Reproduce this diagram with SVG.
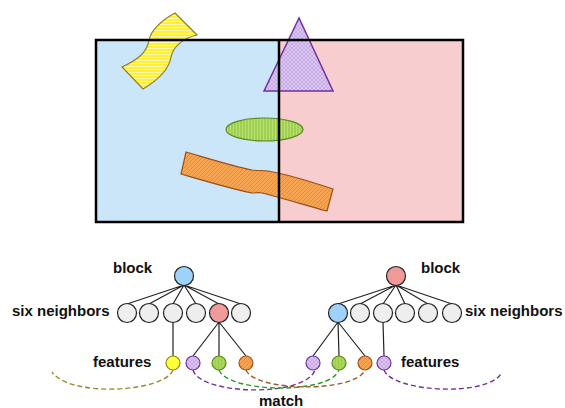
<svg xmlns="http://www.w3.org/2000/svg" width="565" height="408" viewBox="0 0 565 408">
<defs>
<pattern id="pHoriz" width="4" height="3" patternUnits="userSpaceOnUse"><rect width="4" height="3" fill="#ffef3a"/><line x1="0" y1="0.5" x2="4" y2="0.5" stroke="#fff8b0" stroke-width="1"/></pattern>
<pattern id="pCross" width="4" height="4" patternUnits="userSpaceOnUse"><rect width="4" height="4" fill="#dcc6f2"/><path d="M0,4 L4,0 M0,0 L4,4" stroke="#b898de" stroke-width="0.6"/></pattern>
<pattern id="pVert" width="3" height="4" patternUnits="userSpaceOnUse"><rect width="3" height="4" fill="#b8e070"/><line x1="1" y1="0" x2="1" y2="4" stroke="#86c038" stroke-width="1"/></pattern>
<pattern id="pDiag" width="4" height="4" patternUnits="userSpaceOnUse"><rect width="4" height="4" fill="#f6a452"/><path d="M0,4 L4,0" stroke="#e08838" stroke-width="0.8"/></pattern>
<pattern id="pStripeG" width="3" height="4" patternUnits="userSpaceOnUse"><rect width="3" height="4" fill="#9ccc48"/><line x1="1" y1="0" x2="1" y2="4" stroke="#b8e070" stroke-width="1"/></pattern>
</defs>
<style>
text{font-family:"Liberation Sans",Arial,sans-serif;font-weight:bold;font-size:15px;fill:#111}
.nb{fill:#eeeeee;stroke:#222;stroke-width:1.2}
.blue{fill:#9fd2f8;stroke:#222;stroke-width:1.2}
.red{fill:#f09a9a;stroke:#222;stroke-width:1.2}
.edge{stroke:#222;stroke-width:1.2;fill:none}
.fy{fill:#ffff3a;stroke:#8a8a20;stroke-width:1.2}
.fp{fill:url(#pCross);stroke:#7030a0;stroke-width:1.2}
.fg{fill:url(#pStripeG);stroke:#5a8a20;stroke-width:1.2}
.fo{fill:url(#pDiag);stroke:#a05020;stroke-width:1.2}
.dash{fill:none;stroke-width:1.4;stroke-dasharray:5,3}
</style>

<g id="scene">
<rect x="96" y="40" width="183" height="182" fill="#cce6f9"/>
<rect x="279" y="40" width="184" height="182" fill="#f7cdd0"/>
<path d="M175,13 L197,35 C183,38 173,47 171,57 C169,70 158,80 143,89 L122,67 C137,60 147,53 149,40 C151,30 162,20 175,13 Z" fill="url(#pHoriz)" stroke="#8a8020" stroke-width="1.2"/>
<polygon points="299,18 264,91 333,91" fill="url(#pCross)" stroke="#7030a0" stroke-width="1.5"/>
<ellipse cx="264.5" cy="129.5" rx="38.5" ry="11.5" fill="url(#pVert)" stroke="#5a8a20" stroke-width="1.2"/>
<path d="M186,152 C210,159 232,166 252,170 C258,171 262,170 268,171 C290,175 312,182 333,189 L327,211 C305,205 282,198 262,193 C258,192 256,193 252,193 C228,188 205,181 181,174 Z" fill="url(#pDiag)" stroke="#9a4e18" stroke-width="1.2"/>
<rect x="96" y="40" width="367" height="182" fill="none" stroke="#000" stroke-width="2.5"/>
<line x1="279" y1="40" x2="279" y2="222" stroke="#000" stroke-width="2.5"/>
</g>

<g id="connectors">
<path class="edge" d="M184,285 L127,304 M184,285 L149,304 M184,285 L173,304 M184,285 L196,304 M184,285 L219,304 M184,285 L241,304"/>
<path class="edge" d="M173,322 L173,356 M219,322 L193,356 M219,322 L219,356 M219,322 L246,356"/>
<path class="edge" d="M396,285 L338,304 M396,285 L360,304 M396,285 L383,304 M396,285 L405,304 M396,285 L428,304 M396,285 L452,304"/>
<path class="edge" d="M338,322 L313,356 M338,322 L339,356 M338,322 L365,356 M383,322 L384,356"/>
<path class="dash" stroke="#a08a30" d="M173,370 C165,392 70,398 52,372"/>
<path class="dash" stroke="#7030a0" d="M384,370 C392,392 490,398 502,372"/>
<path class="dash" stroke="#7030a0" d="M193,370 C200,395 305,398 315,370"/>
<path class="dash" stroke="#2e9a2e" d="M219,370 C228,393 330,395 339,370"/>
<path class="dash" stroke="#a0582a" d="M246,370 C255,392 355,393 365,370"/>
</g>

<g id="left-block"><circle class="blue" cx="184" cy="276" r="9.5"/><text x="113" y="273">block</text></g>
<g id="left-neighbors">
<circle class="nb" cx="127" cy="313" r="9.5"/><circle class="nb" cx="149" cy="313" r="9.5"/><circle class="nb" cx="173" cy="313" r="9.5"/><circle class="nb" cx="196" cy="313" r="9.5"/><circle class="red" cx="219" cy="313" r="9.5"/><circle class="nb" cx="241" cy="313" r="9.5"/>
<text x="12" y="316">six neighbors</text>
</g>
<g id="left-features">
<circle class="fy" cx="173" cy="363" r="7"/><circle class="fp" cx="193" cy="363" r="7"/><circle class="fg" cx="219" cy="363" r="7"/><circle class="fo" cx="246" cy="363" r="7"/>
<text x="93" y="367">features</text>
</g>

<g id="right-block"><circle class="red" cx="396" cy="276" r="9.5"/><text x="421" y="273">block</text></g>
<g id="right-neighbors">
<circle class="blue" cx="338" cy="313" r="9.5"/><circle class="nb" cx="360" cy="313" r="9.5"/><circle class="nb" cx="383" cy="313" r="9.5"/><circle class="nb" cx="405" cy="313" r="9.5"/><circle class="nb" cx="428" cy="313" r="9.5"/><circle class="nb" cx="452" cy="313" r="9.5"/>
<text x="465" y="316">six neighbors</text>
</g>
<g id="right-features">
<circle class="fp" cx="313" cy="363" r="7"/><circle class="fg" cx="339" cy="363" r="7"/><circle class="fo" cx="365" cy="363" r="7"/><circle class="fp" cx="384" cy="363" r="7"/>
<text x="401" y="367">features</text>
</g>

<g id="match"><text x="259" y="406">match</text></g>
</svg>
